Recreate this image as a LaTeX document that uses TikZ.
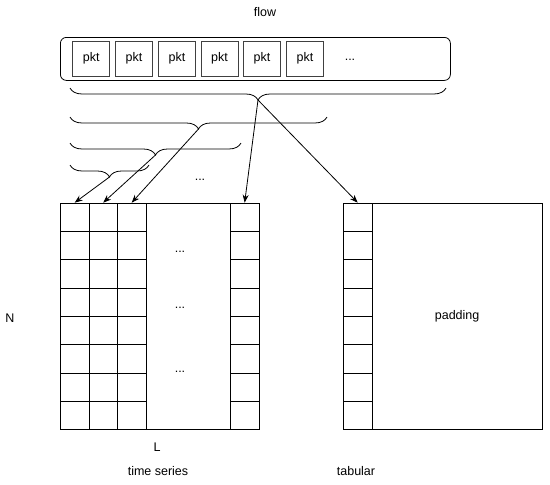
\documentclass[tikz,border=0pt]{standalone}
\usepackage{fontspec}
\setmainfont{Liberation Sans}
\usetikzlibrary{arrows.meta,decorations.pathreplacing}
\begin{document}
\begin{tikzpicture}[x=1pt,y=1pt, line width=0.8pt,
  lbl/.style={font=\fontsize{12.5}{14}\selectfont, inner sep=0pt},
  pktbox/.style={draw=black!75, minimum width=37pt, minimum height=35pt, inner sep=0pt, font=\fontsize{12.5}{14}\selectfont},
  cellbox/.style={draw, minimum width=28.5pt, minimum height=28.33pt, inner sep=0pt, anchor=north west},
  brc/.style={decorate, decoration={brace, mirror, amplitude=12pt}},
  arr/.style={-{Stealth[length=8pt,width=6pt]}}]
\useasboundingbox (0,0) rectangle (550,-485);

% flow
\node[lbl] (flowlbl) at (265,-12) {flow};
\node[draw, rounded corners=6pt, minimum width=390pt, minimum height=43pt, anchor=north west, inner sep=0pt] (flow) at (60,-37) {};
\foreach \i/\x in {1/91.3,2/134,3/177,4/219.5,5/262,6/305}
  \node[pktbox] (p\i) at (\x,-58.5) {pkt};
\node[lbl] (fdots) at (350,-60) {...};

% braces
\draw[brc] (70,-88) -- (446,-88);
\draw[brc] (70,-117) -- (327,-117);
\draw[brc] (70,-143) -- (241,-143);
\draw[brc] (70,-165) -- (149,-165);
\coordinate (t1) at (258,-100);
\coordinate (t2) at (198.5,-129);
\coordinate (t3) at (155.5,-155);
\coordinate (t4) at (109.5,-177);
\node[lbl] (bdots) at (200,-180) {...};

% time series grid
\foreach \c/\x in {1/60,2/88.5,3/117,4/230}
  \foreach \r in {0,...,7}
    \node[cellbox] (g\c-\r) at (\x,-202.7-28.33*\r) {};
\node[draw, minimum width=84.5pt, minimum height=226.64pt, inner sep=0pt, anchor=north west] (mid) at (145.5,-202.7) {};
\node[lbl] (d1) at (180,-252) {...};
\node[lbl] (d2) at (180,-308) {...};
\node[lbl] (d3) at (180,-372) {...};

% tabular grid
\foreach \r in {0,...,7}
  \node[cellbox, minimum width=28.7pt] (h\r) at (343,-202.7-28.33*\r) {};
\node[draw, minimum width=170pt, minimum height=226.64pt, inner sep=0pt, anchor=north west, font=\fontsize{12.5}{14}\selectfont] (pad) at (371.7,-202.7) {padding};

% arrows
\draw[arr] (t4) -- (g1-0.north);
\draw[arr] (t3) -- (g2-0.north);
\draw[arr] (t2) -- (g3-0.north);
\draw[arr] (t1) -- (g4-0.north);
\draw[arr] (t1) -- (h0.north);

% labels
\node[lbl] (N) at (10,-318) {N};
\node[lbl] (L) at (157,-447) {L};
\node[lbl] (ts) at (158,-471) {time series};
\node[lbl] (tab) at (356,-471) {tabular};
\end{tikzpicture}
\end{document}
